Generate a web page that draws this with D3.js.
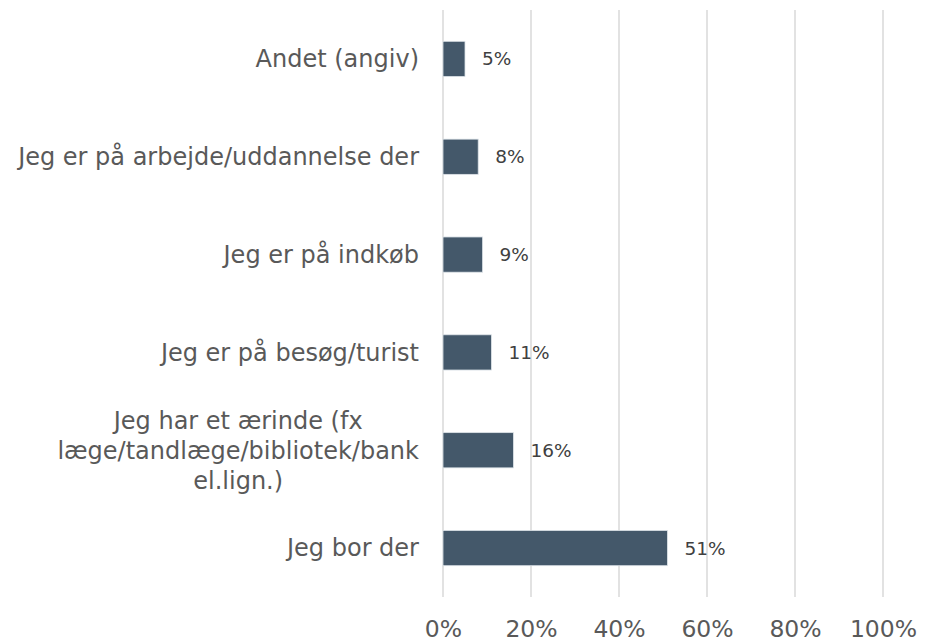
<!DOCTYPE html>
<html><head><meta charset="utf-8">
<script src="https://cdn.jsdelivr.net/npm/d3@7"></script>
<style>body{margin:0;background:#fff}svg{display:block}</style>
</head><body><svg id="c" width="928" height="642"></svg>
<script>
const categories = [
  "Andet (angiv)",
  "Jeg er på arbejde/uddannelse der",
  "Jeg er på indkøb",
  "Jeg er på besøg/turist",
  "Jeg har et ærinde (fx|læge/tandlæge/bibliotek/bank|el.lign.)",
  "Jeg bor der"
];
const values = [5, 8, 9, 11, 16, 51];
const valueLabels = ["5%", "8%", "9%", "11%", "16%", "51%"];
const ticks = [0, 20, 40, 60, 80, 100];

const svg = d3.select("#c");
const mLeft = 443, mRight = 883, mTop = 10, mBottom = 597;
const x = d3.scaleLinear().domain([0, 100]).range([mLeft, mRight]);
const y = d3.scaleBand().domain(categories).range([mTop, mBottom]).paddingInner(0.64).paddingOuter(0.32);
const FONT = "DejaVu Sans, Verdana, sans-serif";

// gridlines
svg.append("g").selectAll("line").data(ticks).join("line")
  .attr("x1", d => x(d)).attr("x2", d => x(d))
  .attr("y1", mTop).attr("y2", mBottom)
  .attr("stroke", "#d9d9d9").attr("stroke-width", 1.5);

// axis labels
const xAxis = d3.axisBottom(x).tickValues(ticks).tickFormat(d => d + "%").tickSize(0).tickPadding(0);
const ax = svg.append("g").attr("transform", `translate(0,${mBottom})`).call(xAxis);
ax.select(".domain").remove();
ax.selectAll("text").attr("y", 40).attr("dy", 0)
  .attr("font-family", FONT).attr("font-size", 23.5).attr("fill", "#595959");

// bars
svg.append("g").selectAll("rect").data(values).join("rect")
  .attr("x", x(0)).attr("y", (d, i) => y(categories[i]))
  .attr("width", d => x(d) - x(0)).attr("height", y.bandwidth())
  .attr("fill", "#44586a").attr("stroke", "#dde3e8").attr("stroke-width", 0.8);

// value labels
svg.append("g").selectAll("text").data(values).join("text")
  .attr("x", d => x(d) + 17)
  .attr("y", (d, i) => y(categories[i]) + y.bandwidth() / 2)
  .attr("dy", "0.35em")
  .attr("font-family", FONT).attr("font-size", 18.5).attr("fill", "#404040")
  .text((d, i) => valueLabels[i]);

// category labels
const yAxis = d3.axisLeft(y).tickSize(0).tickPadding(24);
const ay = svg.append("g").attr("transform", `translate(${mLeft},0)`).call(yAxis);
ay.select(".domain").remove();
ay.selectAll("text").each(function(d) {
  const t = d3.select(this);
  const lines = d.split("|");
  t.text(null).attr("dy", null).attr("y", 0)
    .attr("font-family", FONT).attr("font-size", 24).attr("fill", "#595959")
    .attr("text-anchor", lines.length > 1 ? "middle" : "end");
  const lh = 30;
  lines.forEach((l, i) => {
    t.append("tspan").attr("x", -24)
      .attr("y", (i - (lines.length - 1) / 2) * lh).attr("dy", "0.35em").text(l);
  });
});
ay.selectAll("text").each(function(d) {
  const lines = d.split("|");
  if (lines.length > 1) {
    d3.select(this).selectAll("tspan").attr("x", 0);
    const w = this.getBBox().width;
    d3.select(this).selectAll("tspan").attr("x", -24 - w / 2);
  }
});
</script></body></html>
